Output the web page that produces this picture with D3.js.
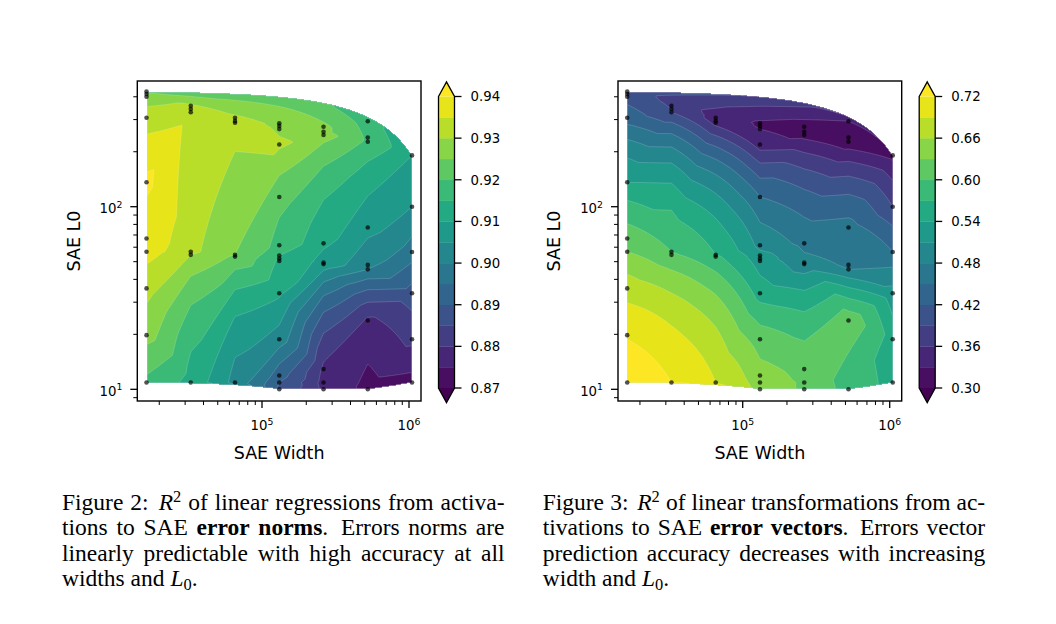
<!DOCTYPE html>
<html><head><meta charset="utf-8">
<script src="https://cdn.jsdelivr.net/npm/d3@7"></script>
<style>body{margin:0;background:#fff} svg{display:block}</style>
</head><body><svg id="c" width="1056" height="624"></svg>
<script>
// ---------------- data ----------------
const widths = [16384, 32768, 65536, 131072, 262144, 524288, 1048576];
// SAE L0 of each trained SAE, grouped by width
const l0W16k  = [427, 414, 400, 307, 136, 67, 56.7, 35.7, 19.8, 10.9];
const l0W32k  = [357, 343, 329, 56.7, 54.5, 10.9];
const l0W65k  = [307, 295, 288, 54.5, 53.3, 10.9];
const l0W131k = [286, 277, 266, 219, 113, 61.5, 54, 52, 50.5, 33.6, 18.8, 11.9, 10.9, 10];
const l0W262k = [274, 257, 247, 63, 49.4, 48.5, 12.9, 10.9, 10];
const l0W524k = [294, 239, 227, 77, 48, 45.4, 23.8, 10];
const l0W1m   = [191, 100, 56.5, 33.6, 18.8, 10.9];
const l0ByWidth = [l0W16k, l0W32k, l0W65k, l0W131k, l0W262k, l0W524k, l0W1m];

// Figure 2: R^2 for error norms (same order as L0 arrays)
const normW16k  = [0.924, 0.926, 0.928, 0.932, 0.941, 0.938, 0.937, 0.932, 0.927, 0.919];
const normW32k  = [0.931, 0.932, 0.933, 0.931, 0.930, 0.913];
const normW65k  = [0.931, 0.932, 0.933, 0.925, 0.924, 0.903];
const normW131k = [0.928, 0.928, 0.929, 0.931, 0.922, 0.918, 0.915, 0.915, 0.914, 0.911, 0.903, 0.892, 0.890, 0.889];
const normW262k = [0.926, 0.926, 0.927, 0.911, 0.908, 0.908, 0.879, 0.878, 0.8785];
const normW524k = [0.917, 0.919, 0.919, 0.907, 0.901, 0.900, 0.879, 0.8735];
const normW1m   = [0.910, 0.905, 0.898, 0.888, 0.8815, 0.8735];
const normR2 = [normW16k, normW32k, normW65k, normW131k, normW262k, normW524k, normW1m];

// Figure 3: R^2 for error vectors
const vecW16k  = [0.400, 0.405, 0.410, 0.435, 0.540, 0.615, 0.630, 0.675, 0.715, 0.760];
const vecW32k  = [0.385, 0.390, 0.390, 0.600, 0.605, 0.720];
const vecW65k  = [0.345, 0.345, 0.350, 0.570, 0.575, 0.690];
const vecW131k = [0.325, 0.325, 0.330, 0.345, 0.450, 0.500, 0.520, 0.520, 0.525, 0.555, 0.615, 0.640, 0.645, 0.650];
const vecW262k = [0.315, 0.315, 0.320, 0.470, 0.490, 0.490, 0.620, 0.625, 0.625];
const vecW524k = [0.330, 0.310, 0.310, 0.460, 0.475, 0.480, 0.620, 0.585];
const vecW1m   = [0.320, 0.390, 0.450, 0.520, 0.555, 0.560];
const vecR2 = [vecW16k, vecW32k, vecW65k, vecW131k, vecW262k, vecW524k, vecW1m];

// contour levels and colorbar ticks
const normLevels = d3.range(15).map(k => +(0.87 + 0.005 * k).toFixed(3));
const normTicks = [0.87, 0.88, 0.89, 0.90, 0.91, 0.92, 0.93, 0.94];
const vecLevels = d3.range(15).map(k => +(0.30 + 0.03 * k).toFixed(2));
const vecTicks = [0.30, 0.36, 0.42, 0.48, 0.54, 0.60, 0.66, 0.72];

const xLabel = "SAE Width", yLabel = "SAE L0";

const captionLeft = [
  [["Figure"], ["2:"], [["R","i"],["2","sup"]], ["of"], ["linear"], ["regressions"], ["from"], ["activa-"]],
  [["tions"], ["to"], ["SAE"], [["error","b"]], [["norms","b"],[".","n"]], ["Errors"], ["norms"], ["are"]],
  [["linearly"], ["predictable"], ["with"], ["high"], ["accuracy"], ["at"], ["all"]],
  [["widths"], ["and"], [["L","i"],["0","sub"],[".","n"]]]
];
const captionRight = [
  [["Figure"], ["3:"], [["R","i"],["2","sup"]], ["of"], ["linear"], ["transformations"], ["from"], ["ac-"]],
  [["tivations"], ["to"], ["SAE"], [["error","b"]], [["vectors","b"],[".","n"]], ["Errors"], ["vector"]],
  [["prediction"], ["accuracy"], ["decreases"], ["with"], ["increasing"]],
  [["width"], ["and"], [["L","i"],["0","sub"],[".","n"]]]
];

// ---------------- drawing ----------------
const svg = d3.select("#c");
const AX = {L: 137.3, R: 421, T: 81, B: 401};
const FONT = "DejaVu Sans, sans-serif";

function drawChart(ox, vals, levels, ticks, caption) {
  const g = svg.append("g");
  const x = d3.scaleLog().domain([Math.pow(10, 4.1517), Math.pow(10, 6.0816)]).range([AX.L + ox, AX.R + ox]);
  const y = d3.scaleLog().domain([Math.pow(10, 0.936), Math.pow(10, 2.6884)]).range([AX.B, AX.T]);

  const pts = [];
  widths.forEach((w, i) => l0ByWidth[i].forEach((l, j) => pts.push({w, l, v: vals[i][j]})));

  // linear interpolation on the Delaunay triangulation (data space), sampled per pixel
  const del = d3.Delaunay.from(pts, p => p.w, p => p.l);
  const x0 = Math.floor(AX.L + ox), y0 = AX.T;
  const nx = Math.ceil(AX.R + ox) - x0, ny = AX.B - AX.T;
  const SENT = -1e6;
  const grid = new Array(nx * ny).fill(SENT);
  const gw = d3.range(nx).map(i => x.invert(x0 + i + 0.5));
  const gl = d3.range(ny).map(j => y.invert(y0 + j + 0.5));
  const T = del.triangles;
  for (let t = 0; t < T.length; t += 3) {
    const a = pts[T[t]], b = pts[T[t+1]], c = pts[T[t+2]];
    const det = (b.l - c.l) * (a.w - c.w) + (c.w - b.w) * (a.l - c.l);
    if (Math.abs(det) < 1e-12) continue;
    const wmin = Math.min(a.w, b.w, c.w), wmax = Math.max(a.w, b.w, c.w);
    const lmin = Math.min(a.l, b.l, c.l), lmax = Math.max(a.l, b.l, c.l);
    const i0 = Math.max(0, Math.floor(x(wmin) - x0 - 1)), i1 = Math.min(nx - 1, Math.ceil(x(wmax) - x0 + 1));
    const j0 = Math.max(0, Math.floor(y(lmax) - y0 - 1)), j1 = Math.min(ny - 1, Math.ceil(y(lmin) - y0 + 1));
    for (let i = i0; i <= i1; i++) {
      const W = gw[i];
      for (let j = j0; j <= j1; j++) {
        const Lv = gl[j];
        const la = ((b.l - c.l) * (W - c.w) + (c.w - b.w) * (Lv - c.l)) / det;
        const lb = ((c.l - a.l) * (W - c.w) + (a.w - c.w) * (Lv - c.l)) / det;
        const lc = 1 - la - lb;
        if (la >= -1e-9 && lb >= -1e-9 && lc >= -1e-9) {
          grid[j * nx + i] = la * a.v + lb * b.v + lc * c.v;
        }
      }
    }
  }

  const nb = levels.length - 1;
  const thr = [0].concat(levels);
  const colorOf = k => k === 0 ? d3.interpolateViridis(0) : (k - 1 < nb ? d3.interpolateViridis((k - 1 + 0.5) / nb) : d3.interpolateViridis(1));
  const cont = d3.contours().size([nx, ny]).thresholds(thr)(grid);
  const path = d3.geoPath(d3.geoIdentity().translate([x0, y0]));
  g.append("g").selectAll("path").data(cont).join("path")
    .attr("d", path)
    .attr("fill", (d, k) => colorOf(k))
    .attr("stroke", (d, k) => k === 0 ? "none" : "#ffffff")
    .attr("stroke-opacity", 0.28)
    .attr("stroke-width", 0.6);

  // points
  g.append("g").selectAll("circle").data(pts).join("circle")
    .attr("cx", d => x(d.w)).attr("cy", d => y(d.l)).attr("r", 2.3)
    .attr("fill", "#000").attr("fill-opacity", 0.68);

  // frame
  g.append("rect").attr("x", AX.L + ox).attr("y", AX.T).attr("width", AX.R - AX.L).attr("height", AX.B - AX.T)
    .attr("fill", "none").attr("stroke", "#000").attr("stroke-width", 1.4);

  // x ticks
  const isMajor = v => Math.abs(Math.log10(v) - Math.round(Math.log10(v))) < 1e-9;
  x.ticks().forEach(v => {
    const px = x(v), maj = isMajor(v);
    g.append("line").attr("x1", px).attr("x2", px).attr("y1", AX.B).attr("y2", AX.B + (maj ? 7 : 4))
      .attr("stroke", "#000").attr("stroke-width", maj ? 1.3 : 1);
    if (maj) {
      const t = g.append("text").attr("x", px).attr("y", 430).attr("text-anchor", "middle")
        .attr("font-family", FONT).attr("font-size", 13.3).attr("fill", "#000");
      t.append("tspan").text("10");
      t.append("tspan").attr("dy", -5.5).attr("font-size", 9.3).text(Math.round(Math.log10(v)));
    }
  });
  // y ticks
  y.ticks().forEach(v => {
    const py = y(v), maj = isMajor(v);
    g.append("line").attr("x1", AX.L + ox).attr("x2", AX.L + ox - (maj ? 7 : 4)).attr("y1", py).attr("y2", py)
      .attr("stroke", "#000").attr("stroke-width", maj ? 1.3 : 1);
    if (maj) {
      const t = g.append("text").attr("x", AX.L + ox - 15).attr("y", py + 6.5).attr("text-anchor", "end")
        .attr("font-family", FONT).attr("font-size", 13.3).attr("fill", "#000");
      t.append("tspan").text("10");
      t.append("tspan").attr("dy", -5.5).attr("font-size", 9.3).text(Math.round(Math.log10(v)));
    }
  });
  // axis labels
  g.append("text").attr("x", (AX.L + AX.R) / 2 + ox).attr("y", 459).attr("text-anchor", "middle")
    .attr("font-family", FONT).attr("font-size", 17.5).text(xLabel);
  g.append("text").attr("transform", `translate(${79.5 + ox},${(AX.T + AX.B) / 2}) rotate(-90)`)
    .attr("text-anchor", "middle").attr("font-family", FONT).attr("font-size", 17.5).text(yLabel);

  // colorbar
  const cbL = 438.5 + ox, cbR = 454.5 + ox, cbT = 96.5, cbB = 388, ext = 14.6;
  const cy = d3.scaleLinear().domain([levels[0], levels[nb]]).range([cbB, cbT]);
  const cb = g.append("g");
  for (let k = 0; k < nb; k++) {
    cb.append("rect").attr("x", cbL).attr("width", cbR - cbL)
      .attr("y", cy(levels[k + 1])).attr("height", cy(levels[k]) - cy(levels[k + 1]) + 0.3)
      .attr("fill", d3.interpolateViridis((k + 0.5) / nb));
  }
  const mid = (cbL + cbR) / 2;
  cb.append("path").attr("d", `M${cbL},${cbT}L${mid},${cbT - ext}L${cbR},${cbT}Z`).attr("fill", d3.interpolateViridis(1));
  cb.append("path").attr("d", `M${cbL},${cbB}L${mid},${cbB + ext}L${cbR},${cbB}Z`).attr("fill", d3.interpolateViridis(0));
  cb.append("path").attr("d", `M${cbL},${cbT}L${mid},${cbT - ext}L${cbR},${cbT}L${cbR},${cbB}L${mid},${cbB + ext}L${cbL},${cbB}Z`)
    .attr("fill", "none").attr("stroke", "#000").attr("stroke-width", 1.3);
  ticks.forEach(v => {
    cb.append("line").attr("x1", cbR).attr("x2", cbR + 7).attr("y1", cy(v)).attr("y2", cy(v))
      .attr("stroke", "#000").attr("stroke-width", 1.3);
    cb.append("text").attr("x", cbR + 16).attr("y", cy(v) + 4.8).attr("font-family", FONT)
      .attr("font-size", 13.3).text(v.toFixed(2));
  });

  // caption (justified)
  drawCaption(caption, 62 + ox, 504.5 + ox, 510, 25.4);
}

function drawCaption(lines, left, right, base, lh) {
  const fs = 23.5;
  lines.forEach((words, li) => {
    const yb = base + li * lh;
    const nodes = words.map(wd => {
      const t = svg.append("text").attr("y", yb).attr("font-family", "Liberation Serif, Times New Roman, serif")
        .attr("font-size", fs).attr("fill", "#000");
      let off = 0;
      wd.forEach(run => {
        const [txt, st] = typeof run === "string" ? [run, "n"] : [run[0], run[1] || "n"];
        const sp = t.append("tspan").text(txt);
        let target = 0;
        if (st === "i") sp.attr("font-style", "italic");
        if (st === "b") sp.attr("font-weight", "bold");
        if (st === "sup") { sp.attr("font-size", fs * 0.7); target = -8.5; }
        if (st === "sub") { sp.attr("font-size", fs * 0.7); target = 4; }
        if (target !== off) { sp.attr("dy", target - off); off = target; }
      });
      return t;
    });
    const ws = nodes.map(n => n.node().getComputedTextLength());
    const total = d3.sum(ws);
    const weights = words.slice(0, -1).map(wd => {
      const last = wd[wd.length - 1];
      const s = typeof last === "string" ? last : last[0];
      return /[.:]$/.test(s) ? 1.45 : 1;
    });
    const wsum = d3.sum(weights);
    const isLast = li === lines.length - 1;
    const unit = isLast ? fs * 0.25 : (right - left - total) / wsum;
    let xx = left;
    nodes.forEach((n, k) => {
      n.attr("x", xx);
      xx += ws[k] + (k < weights.length ? unit * weights[k] : 0);
    });
  });
}

drawChart(0, normR2, normLevels, normTicks, captionLeft);
drawChart(480.7, vecR2, vecLevels, vecTicks, captionRight);
</script>
</body></html>
